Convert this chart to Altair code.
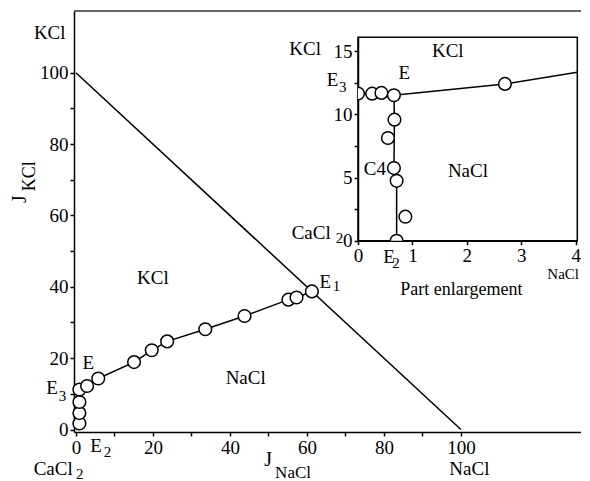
import altair as alt
import pandas as pd

FONT = "Liberation Serif"

# ---------------- main diagram data ----------------
main_x = [0.9, 0.9, 0.9, 0.9, 2.9, 5.8, 15.1, 19.7, 23.7, 33.6, 43.8, 55.2, 57.3, 61.3]
main_y = [1.7, 4.6, 7.7, 11.2, 12.2, 14.3, 18.9, 22.2, 24.7, 28.1, 31.8, 36.4, 37.0, 38.7]

# curve E3-E-E1 and curve E-E2
curveA_x = [0.9, 2.9, 5.8, 15.1, 19.7, 23.7, 33.6, 43.8, 55.2, 57.3, 61.3]
curveA_y = [11.2, 12.2, 14.3, 18.9, 22.2, 24.7, 28.1, 31.8, 36.4, 37.0, 38.7]
curveB_x = [0.9, 0.9]
curveB_y = [11.2, 0.0]

diag_x = [0, 100]
diag_y = [100, 0]

main_labels = ["KCl", "KCl", "NaCl", "E", "E", "3", "E", "1", "E", "2", "CaCl", "2", "NaCl", "J", "NaCl"]
main_lab_x = [-6.8, 20.0, 44.1, 3.2, -6.2, -3.5, 64.8, 67.7, 5.2, 8.2, -5.9, 1.0, 102.2, 49.9, 56.4]
main_lab_y = [111.1, 42.4, 14.3, 18.5, 11.6, 9.4, 41.4, 40.2, -4.7, -6.3, -11.0, -12.6, -11.0, -8.6, -12.2]
main_lab_fs = [19, 19, 19, 19, 19, 15, 19, 15, 19, 15, 19, 15, 19, 20, 17]

rot_labels = ["J", "KCl"]
rot_x = [-14.5, -11.9]
rot_y = [64.6, 71.0]
rot_fs = [20, 18]

MX_DOM = [-0.5, 131.2]
MY_DOM = [-0.7, 117.3]

# ---------------- inset (part enlargement) data ----------------
ins_x = [0.26, 0.43, 0.66, 2.70, 0.67, 0.55, 0.66, 0.71, 0.87]
ins_y = [11.64, 11.70, 11.51, 12.41, 9.58, 8.13, 5.75, 4.74, 1.90]
ins_e3 = (0.0, 11.65)
ins_e2 = (0.71, 0.0)

insA_x = [0.0, 0.26, 0.43, 0.66, 2.70, 4.03]
insA_y = [11.65, 11.64, 11.70, 11.51, 12.41, 13.33]
insB_x = [0.66, 0.67, 0.66, 0.71, 0.71]
insB_y = [11.51, 9.58, 5.75, 4.74, 0.0]

ins_labels = ["KCl", "E", "3", "E", "KCl", "C4", "NaCl", "CaCl", "2", "E", "2", "NaCl", "Part enlargement"]
ins_lab_x = [-0.97, -0.47, -0.28, 0.85, 1.65, 0.31, 2.02, -0.86, -0.34, 0.57, 0.70, 3.77, 1.9]
ins_lab_y = [15.2, 12.75, 12.2, 13.3, 15.0, 5.7, 5.5, 0.6, 0.2, -1.27, -1.8, -2.65, -3.9]
ins_lab_fs = [19, 19, 15, 19, 19, 19, 19, 19, 15, 19, 15, 15, 18]

IX_DOM = [0, 4.03]
IY_DOM = [0, 16.1]

AX = dict(labelFont=FONT, labelFontSize=19, labelColor="black",
          domainColor="black", domainWidth=1.5, tickColor="black", tickWidth=1.5,
          tickSize=4, grid=False, labelPadding=2, title=None, format="d")

# ---------------- encodings ----------------
main_xax = alt.Axis(values=list(range(0, 101, 10)),
                    labelExpr="datum.value % 20 == 0 ? datum.label : ''",
                    labelFlush=False, **AX)
main_yax = alt.Axis(values=list(range(0, 101, 10)),
                    labelExpr="datum.value % 20 == 0 ? datum.label : ''",
                    **AX)


def MX(field="x"):
    return alt.X(f"{field}:Q", scale=alt.Scale(domain=MX_DOM, nice=False, zero=False), axis=main_xax)


def MY(field="y"):
    return alt.Y(f"{field}:Q", scale=alt.Scale(domain=MY_DOM, nice=False, zero=False), axis=main_yax)


ins_xax = alt.Axis(orient="bottom", offset=-191.3,
                   values=[i * 0.5 for i in range(9)],
                   labelExpr="datum.value % 1 == 0 ? datum.label : ''",
                   labelFlush=False, **AX)
ins_yax = alt.Axis(orient="left", offset=-284,
                   values=[i * 2.5 for i in range(7)],
                   labelExpr="datum.value % 5 == 0 ? datum.label : ''",
                   **AX)


def IX(field="x"):
    return alt.X(f"{field}:Q", scale=alt.Scale(domain=IX_DOM, range=[284, 503.3], nice=False, zero=False),
                 axis=ins_xax)


def IY(field="y"):
    return alt.Y(f"{field}:Q", scale=alt.Scale(domain=IY_DOM, range=[229.7, 26.3], nice=False, zero=False),
                 axis=ins_yax)


# ---------------- main layers ----------------
curve_df = pd.DataFrame({
    "x": curveA_x + curveB_x,
    "y": curveA_y + curveB_y,
    "seg": ["A"] * len(curveA_x) + ["B"] * len(curveB_x),
    "o": list(range(len(curveA_x))) + list(range(len(curveB_x))),
})
diag_df = pd.DataFrame({"x": diag_x, "y": diag_y})
pts_df = pd.DataFrame({"x": main_x, "y": main_y})
top_df = pd.DataFrame({"x": [MX_DOM[0]], "x2": [MX_DOM[1]], "y": [MY_DOM[1]]})
lab_df = pd.DataFrame({"x": main_lab_x, "y": main_lab_y, "t": main_labels, "fs": main_lab_fs})
rot_df = pd.DataFrame({"x": rot_x, "y": rot_y, "t": rot_labels, "fs": rot_fs})

diag = alt.Chart(diag_df).mark_line(color="black", strokeWidth=1.5).encode(x=MX(), y=MY())
curve = alt.Chart(curve_df).mark_line(color="black", strokeWidth=1.5).encode(
    x=MX(), y=MY(), detail="seg:N", order="o:Q")
pts = alt.Chart(pts_df).mark_point(shape="circle", filled=True, fill="white", stroke="black",
                                   strokeWidth=1.5, size=160, opacity=1).encode(x=MX(), y=MY())
top = alt.Chart(top_df).mark_rule(color="#333333", strokeWidth=1.5).encode(
    x=MX(), x2="x2:Q", y=MY())
labs = alt.Chart(lab_df).mark_text(font=FONT, color="black").encode(
    x=MX(), y=MY(), text="t:N", size=alt.Size("fs:Q", scale=None, legend=None))
rlabs = alt.Chart(rot_df).mark_text(font=FONT, color="black", angle=270).encode(
    x=MX(), y=MY(), text="t:N", size=alt.Size("fs:Q", scale=None, legend=None))

main = alt.layer(top, diag, curve, pts, labs, rlabs)

# ---------------- inset layers ----------------
ins_curve_df = pd.DataFrame({
    "x": insA_x + insB_x,
    "y": insA_y + insB_y,
    "seg": ["A"] * len(insA_x) + ["B"] * len(insB_x),
    "o": list(range(len(insA_x))) + list(range(len(insB_x))),
})
ins_pts_df = pd.DataFrame({"x": ins_x, "y": ins_y})
e3_df = pd.DataFrame({"x": [ins_e3[0]], "y": [ins_e3[1]]})
e2_df = pd.DataFrame({"x": [ins_e2[0]], "y": [ins_e2[1]]})
frame_df = pd.DataFrame({"x": [IX_DOM[0]], "x2": [IX_DOM[1]], "y": [IY_DOM[0]], "y2": [IY_DOM[1]]})
ins_lab_df = pd.DataFrame({"x": ins_lab_x, "y": ins_lab_y, "t": ins_labels, "fs": ins_lab_fs})

frame = alt.Chart(frame_df).mark_rect(fillOpacity=0, stroke="black", strokeWidth=1.5).encode(
    x=IX(), x2="x2:Q", y=IY(), y2="y2:Q")
icurve = alt.Chart(ins_curve_df).mark_line(color="black", strokeWidth=1.5).encode(
    x=IX(), y=IY(), detail="seg:N", order="o:Q")
ipts = alt.Chart(ins_pts_df).mark_point(shape="circle", filled=True, fill="white", stroke="black",
                                        strokeWidth=1.5, size=160, opacity=1).encode(x=IX(), y=IY())
ie3 = alt.Chart(e3_df).mark_point(shape="M0,-1A1,1 0 0 1 0,1", filled=True, fill="white", stroke="black",
                                  strokeWidth=1.5, size=160, opacity=1).encode(x=IX(), y=IY())
ie2 = alt.Chart(e2_df).mark_point(shape="M-1,0A1,1 0 0 1 1,0", filled=True, fill="white", stroke="black",
                                  strokeWidth=1.5, size=160, opacity=1).encode(x=IX(), y=IY())
ilabs = alt.Chart(ins_lab_df).mark_text(font=FONT, color="black").encode(
    x=IX(), y=IY(), text="t:N", size=alt.Size("fs:Q", scale=None, legend=None))

inset = alt.layer(frame, icurve, ipts, ie3, ie2, ilabs)

chart = alt.layer(main, inset).resolve_scale(x="independent", y="independent").properties(
    width=507, height=421,
    autosize=alt.AutoSizeParams(type="none"),
    padding={"left": 66, "top": 3, "right": 0, "bottom": 50},
    background="white",
).configure_view(stroke=None)

chart.save("out.html", embed_options={"renderer": "svg", "actions": False})
